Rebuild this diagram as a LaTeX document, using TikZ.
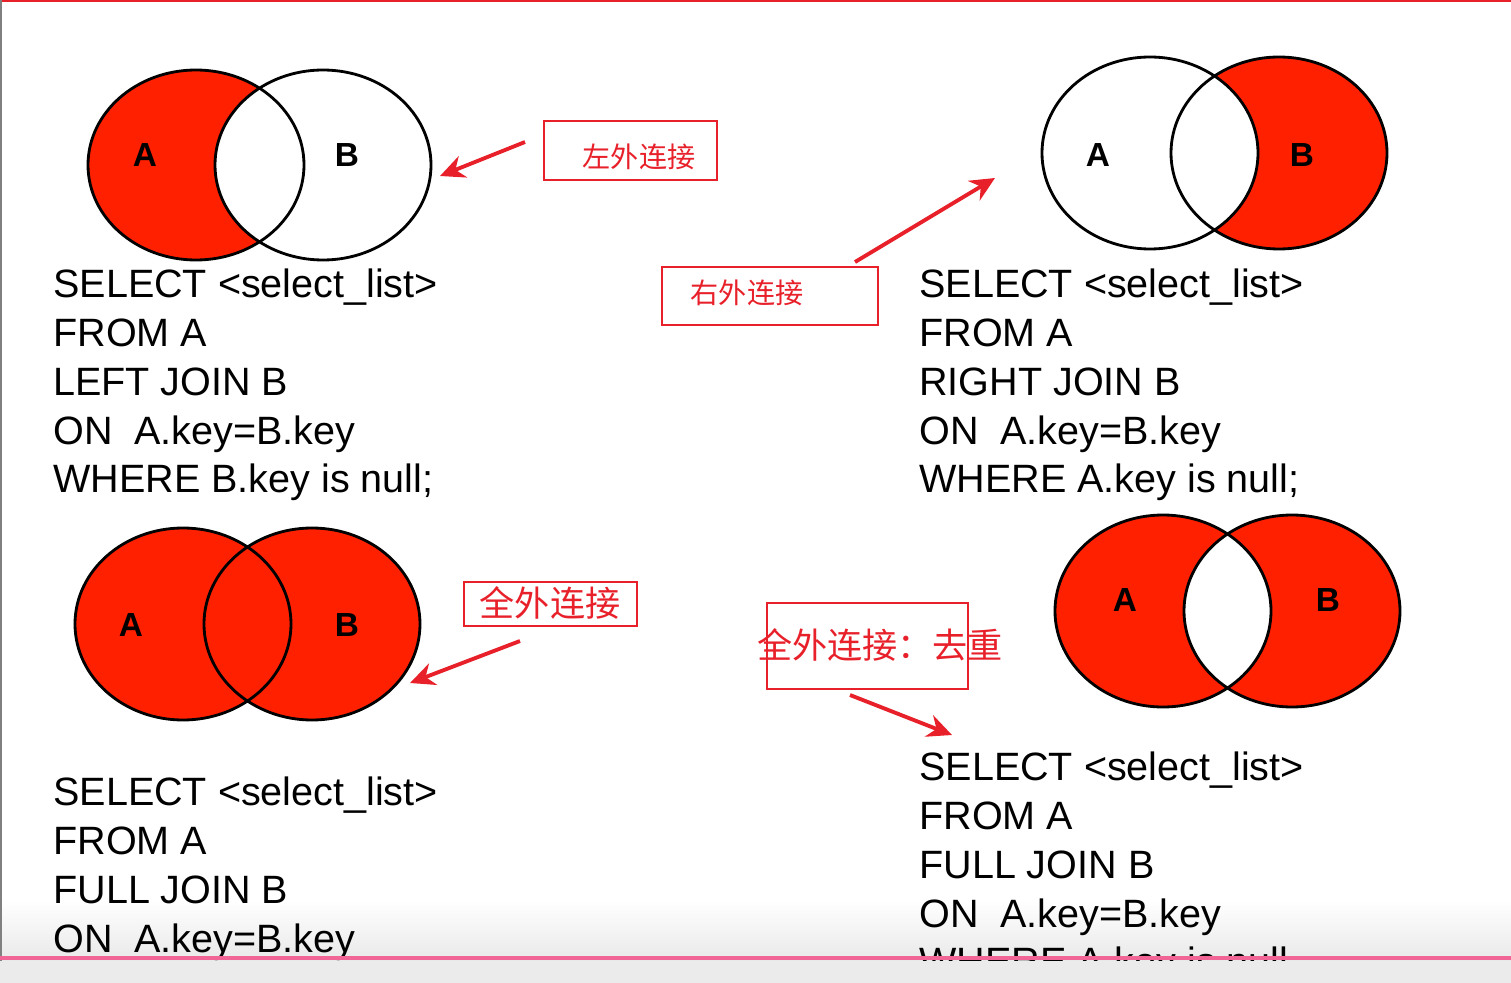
\documentclass[tikz,border=0pt]{standalone}
\usepackage{fontspec}
\setmainfont{Liberation Sans}
\newfontfamily\cjk{Noto Sans CJK SC}
\usetikzlibrary{arrows.meta}
\definecolor{vred}{HTML}{FF2000}
\definecolor{lbl}{HTML}{E8202A}
\begin{document}
\begin{tikzpicture}[x=0.02cm,y=-0.02cm,
 sql/.style={anchor=base west,inner sep=0pt,font=\fontsize{22.5}{27}\selectfont},
 let/.style={font=\fontsize{19}{22}\selectfont\bfseries},
 vline/.style={draw=black,line width=1.6pt},
 tag/.style={draw=lbl,line width=1.2pt,text=lbl},
 arr/.style={draw=lbl,line width=2.2pt,-{Stealth[length=14pt,width=13pt]}}]
\useasboundingbox (0,0) rectangle (1511,983);
\fill[white] (0,0) rectangle (1511,983);
\shade[top color=white,bottom color=black!12] (0,900) rectangle (1511,983);
\draw[lbl,line width=1.5pt] (0,1) -- (1511,1);
\draw[black!50,line width=1.5pt] (1,0) -- (1,983);
% top-left
\fill[vred] (196,165) ellipse [x radius=108,y radius=95];
\begin{scope}\clip (196,165) ellipse [x radius=108,y radius=95];
\fill[white] (323,165) ellipse [x radius=108,y radius=95];\end{scope}
\draw[vline] (196,165) ellipse [x radius=108,y radius=95];
\draw[vline] (323,165) ellipse [x radius=108,y radius=95];
\node[let] (tla) at (145,155) {A};
\node[let] (tlb) at (347,155) {B};
% top-right
\fill[vred] (1279,153) ellipse [x radius=108,y radius=96];
\begin{scope}\clip (1279,153) ellipse [x radius=108,y radius=96];
\fill[white] (1150,153) ellipse [x radius=108,y radius=96];\end{scope}
\draw[vline] (1150,153) ellipse [x radius=108,y radius=96];
\draw[vline] (1279,153) ellipse [x radius=108,y radius=96];
\node[let] (tra) at (1098,155) {A};
\node[let] (trb) at (1302,155) {B};
% bottom-left
\fill[vred] (183,624) ellipse [x radius=108,y radius=96];
\fill[vred] (312,624) ellipse [x radius=108,y radius=96];
\draw[vline] (183,624) ellipse [x radius=108,y radius=96];
\draw[vline] (312,624) ellipse [x radius=108,y radius=96];
\node[let] (bla) at (131,625) {A};
\node[let] (blb) at (347,625) {B};
% bottom-right
\fill[vred] (1163,611) ellipse [x radius=108,y radius=96];
\fill[vred] (1292,611) ellipse [x radius=108,y radius=96];
\begin{scope}\clip (1163,611) ellipse [x radius=108,y radius=96];
\fill[white] (1292,611) ellipse [x radius=108,y radius=96];\end{scope}
\draw[vline] (1163,611) ellipse [x radius=108,y radius=96];
\draw[vline] (1292,611) ellipse [x radius=108,y radius=96];
\node[let] (bra) at (1125,600) {A};
\node[let] (brb) at (1328,600) {B};
% SQL texts
\node[sql] (t1) at (53,297) {SELECT <select\_list>};
\node[sql] (t2) at (53,346) {FROM A};
\node[sql] (t3) at (53,395) {LEFT JOIN B};
\node[sql] (t4) at (53,444) {ON\ \ A.key=B.key};
\node[sql] (t5) at (53,492) {WHERE B.key is null;};
\node[sql] (r1) at (919,297) {SELECT <select\_list>};
\node[sql] (r2) at (919,346) {FROM A};
\node[sql] (r3) at (919,395) {RIGHT JOIN B};
\node[sql] (r4) at (919,444) {ON\ \ A.key=B.key};
\node[sql] (r5) at (919,492) {WHERE A.key is null;};
\node[sql] (b1) at (53,805) {SELECT <select\_list>};
\node[sql] (b2) at (53,854) {FROM A};
\node[sql] (b3) at (53,903) {FULL JOIN B};
\node[sql] (b4) at (53,952) {ON\ \ A.key=B.key};
\node[sql] (c1) at (919,780) {SELECT <select\_list>};
\node[sql] (c2) at (919,829) {FROM A};
\node[sql] (c3) at (919,878) {FULL JOIN B};
\node[sql] (c4) at (919,927) {ON\ \ A.key=B.key};
\node[sql] (c5) at (919,975) {WHERE A.key is null};
\fill[white!92!black] (0,961) rectangle (1511,983);
\draw[color={rgb,255:red,240;green,100;blue,150},line width=2.5pt] (0,958) -- (1511,958);
% labels
\draw[tag] (544,121) rectangle (717,180);
\node[text=lbl,font=\cjk\fontsize{16}{18}\selectfont] (l1) at (639,157) {左外连接};
\draw[tag] (662,267) rectangle (878,325);
\node[text=lbl,font=\cjk\fontsize{16}{18}\selectfont] (l2) at (747,293) {右外连接};
\draw[tag] (464,582) rectangle (637,626);
\node[text=lbl,font=\cjk\fontsize{20}{22}\selectfont] (l3) at (550,603) {全外连接};
\draw[tag] (767,603) rectangle (968,689);
\node[text=lbl,font=\cjk\fontsize{20}{22}\selectfont] (l4) at (880,645) {全外连接：去重};
\coordinate (s1) at (525,142); \coordinate (e1) at (440,176);
\coordinate (s2) at (855,262); \coordinate (e2) at (995,178);
\coordinate (s3) at (520,641); \coordinate (e3) at (410,683);
\coordinate (s4) at (850,695); \coordinate (e4) at (952,735);
\draw[arr] (s1) -- (e1);
\draw[arr] (s2) -- (e2);
\draw[arr] (s3) -- (e3);
\draw[arr] (s4) -- (e4);
\end{tikzpicture}
\end{document}
